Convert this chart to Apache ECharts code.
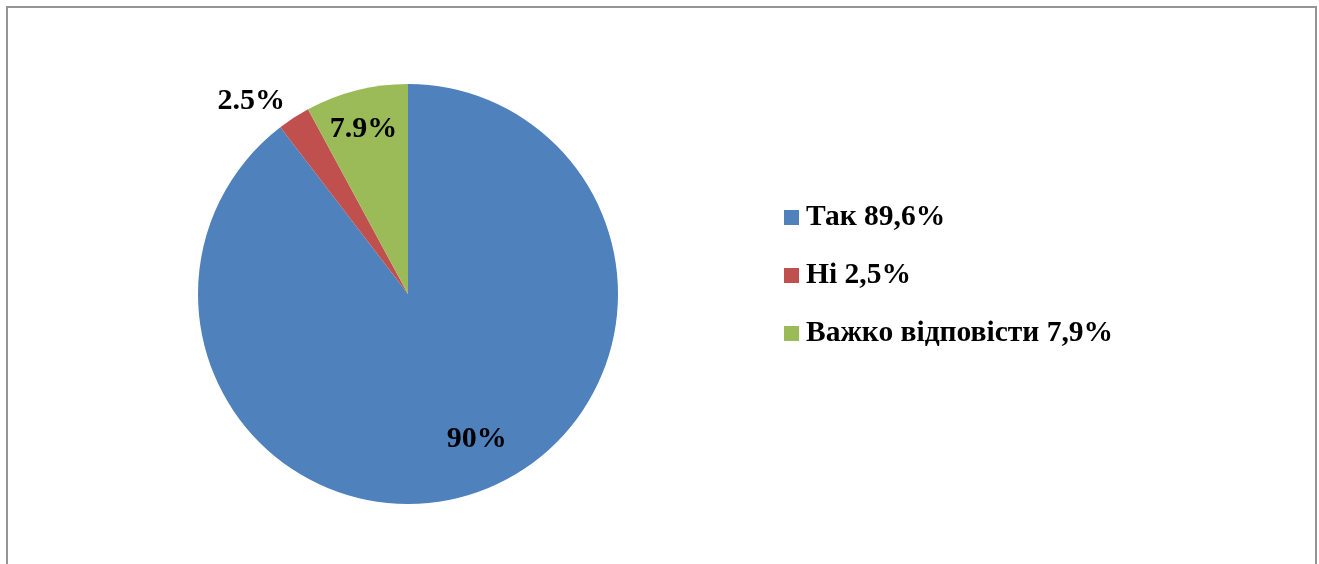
<!DOCTYPE html>
<html>
<head>
<meta charset="utf-8">
<script src="https://cdn.jsdelivr.net/npm/echarts@6/dist/echarts.min.js"></script>
<style>
  html, body { margin: 0; padding: 0; background: #fff; }
  #chart { width: 1319px; height: 564px; }
</style>
</head>
<body>
<div id="chart"></div>
<script>
const categories = ['Так', 'Ні', 'Важко відповісти'];
const values = [89.6, 2.5, 7.9];
const legendValues = ['89,6%', '2,5%', '7,9%'];
const pieLabels = ['90%', '2.5%', '7.9%'];
const colors = ['#4F81BD', '#C0504D', '#9BBB59'];

// nudges so labels sit where Excel put them
const labelOffsets = [[34, 43], [-98, -102], [-18, -60]];

const font = '"Liberation Serif", "Times New Roman", serif';

const chart = echarts.init(document.getElementById('chart'));

chart.setOption({
  animation: false,
  color: colors,
  graphic: [{
    type: 'rect',
    shape: { x: 7, y: 7, width: 1309, height: 600 },
    style: { fill: 'none', stroke: '#959595', lineWidth: 2 },
    silent: true
  }],
  legend: {
    orient: 'vertical',
    left: 779,
    top: 197,
    icon: 'rect',
    itemWidth: 15,
    itemHeight: 15,
    itemGap: 27,
    data: categories,
    formatter: name => name + ' ' + legendValues[categories.indexOf(name)],
    textStyle: {
      fontFamily: font,
      fontWeight: 'bold',
      fontSize: 29.5,
      lineHeight: 31,
      padding: [0, 0, 0, 2],
      color: '#000'
    }
  },
  series: [{
    type: 'pie',
    center: [408, 294],
    radius: 210,
    startAngle: 90,
    clockwise: true,
    avoidLabelOverlap: false,
    labelLine: { show: false },
    label: {
      show: true,
      position: 'inside',
      fontFamily: font,
      fontWeight: 'bold',
      fontSize: 30,
      color: '#000'
    },
    data: categories.map((name, i) => ({
      name,
      value: values[i],
      label: {
        formatter: pieLabels[i],
        offset: labelOffsets[i]
      }
    }))
  }]
});
</script>
</body>
</html>
